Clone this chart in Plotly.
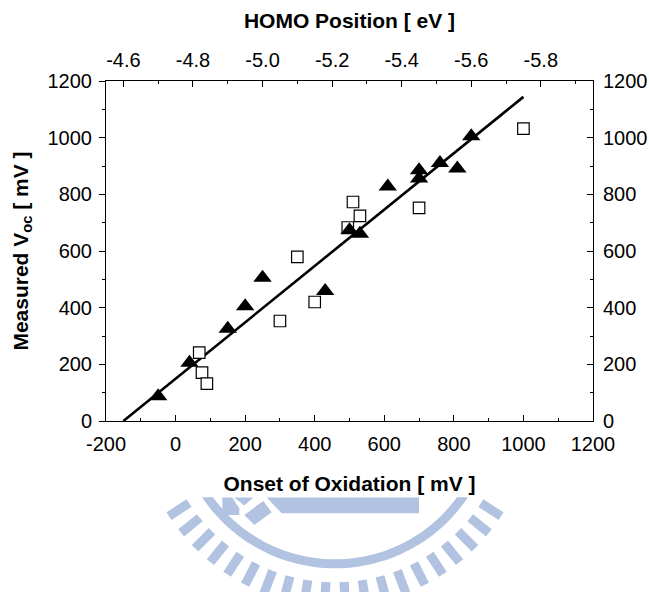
import math
import plotly.graph_objects as go

# ---------------- data ----------------
onset_tri = [-50, 40, 150, 200, 250, 430, 500, 530, 610, 700, 700, 760, 810, 850]
voc_tri = [87, 206, 326, 405, 506, 459, 673, 661, 828, 885, 856, 911, 891, 1005]

onset_sq = [68, 76, 90, 300, 350, 400, 495, 510, 530, 700, 1000]
voc_sq = [241, 171, 132, 353, 579, 420, 683, 773, 724, 752, 1032]

fit_onset = [-150, 1000]
fit_voc = [0, 1144]

x_tickvals = [-200, 0, 200, 400, 600, 800, 1000, 1200]
x_ticktext = ["-200", "0", "200", "400", "600", "800", "1000", "1200"]
homo_tickvals = [-4.6, -4.8, -5.0, -5.2, -5.4, -5.6, -5.8]
homo_ticktext = ["-4.6", "-4.8", "-5.0", "-5.2", "-5.4", "-5.6", "-5.8"]
y_tickvals = [0, 200, 400, 600, 800, 1000, 1200]
y_ticktext = ["0", "200", "400", "600", "800", "1000", "1200"]

FONT = "Liberation Sans, Arial, sans-serif"

fig = go.Figure()
fig.add_trace(go.Scatter(x=fit_onset, y=fit_voc, mode="lines",
                         line=dict(color="black", width=2.6), showlegend=False,
                         hoverinfo="skip"))
fig.add_trace(go.Scatter(x=onset_sq, y=voc_sq, mode="markers",
                         marker=dict(symbol="square", size=11.5, color="white",
                                     line=dict(color="black", width=1.2)),
                         showlegend=False))
fig.add_trace(go.Scatter(x=onset_tri, y=voc_tri, mode="markers",
                         marker=dict(symbol="triangle-up", size=16, color="black",
                                     line=dict(width=0)),
                         showlegend=False))
# empty helper traces so the top (HOMO) axis and the right axis get drawn
fig.add_trace(go.Scatter(x=[None], y=[None], xaxis="x2", yaxis="y", mode="markers",
                         showlegend=False, hoverinfo="skip"))
fig.add_trace(go.Scatter(x=[None], y=[None], xaxis="x", yaxis="y2", mode="markers",
                         showlegend=False, hoverinfo="skip"))

# ---------------- watermark (decorative logo, pixel geometry) ----------------
PX0, PX1, PY0, PY1 = 106.0, 593.0, 80.7, 420.7
YCUT = 497.0
WM = "#b2c2e1"


def to_paper(p):
    return ((p[0] - PX0) / (PX1 - PX0), (PY1 - p[1]) / (PY1 - PY0))


def clip(poly, ycut=YCUT):
    out = []
    n = len(poly)
    for i in range(n):
        a = poly[i]
        b = poly[(i + 1) % n]
        ina = a[1] >= ycut
        inb = b[1] >= ycut
        if ina:
            out.append(a)
        if ina != inb:
            t = (ycut - a[1]) / (b[1] - a[1])
            out.append((a[0] + t * (b[0] - a[0]), ycut))
    return out


def path_of(poly):
    pts = [to_paper(p) for p in poly]
    return "M" + "L".join(f"{x:.4f},{y:.4f}" for x, y in pts) + "Z"


shapes = []
cx, cy = 335.0, 408.0
ro, ri = 160.0, 151.0
angs = [30 + 2 * i for i in range(61)]  # 30..150 deg
ring = [(cx + ro * math.cos(math.radians(a)), cy + ro * math.sin(math.radians(a))) for a in angs]
ring += [(cx + ri * math.cos(math.radians(a)), cy + ri * math.sin(math.radians(a))) for a in reversed(angs)]
ring = clip(ring)
shapes.append(dict(type="path", path=path_of(ring), xref="paper", yref="paper",
                   fillcolor=WM, line=dict(width=0), layer="above"))

r1, r2, hw = 174.0, 198.0, 4.6
for k in range(10):
    for sgn in (-1, 1):
        th = math.radians(90 + sgn * (3 + 6 * k))
        ux, uy = math.cos(th), math.sin(th)
        vx, vy = -uy, ux
        bar = [(cx + r1 * ux + hw * vx, cy + r1 * uy + hw * vy),
               (cx + r2 * ux + hw * vx, cy + r2 * uy + hw * vy),
               (cx + r2 * ux - hw * vx, cy + r2 * uy - hw * vy),
               (cx + r1 * ux - hw * vx, cy + r1 * uy - hw * vy)]
        bar = clip(bar)
        if len(bar) > 2:
            shapes.append(dict(type="path", path=path_of(bar), xref="paper", yref="paper",
                               fillcolor=WM, line=dict(width=0), layer="above"))

emblem = [
    [(222.3, 497.3), (232.3, 497.3), (239.3, 508), (239.3, 514.7), (222.3, 514.7)],
    [(244.3, 514.7), (263.3, 500.7), (271.7, 512), (254.3, 524.7)],
    [(234.3, 497.3), (253.3, 497.3), (244.3, 505.3)],
    [(266.7, 497.3), (419, 497.3), (419, 513), (281.7, 513)],
]
for pg in emblem:
    shapes.append(dict(type="path", path=path_of(pg), xref="paper", yref="paper",
                       fillcolor=WM, line=dict(width=0), layer="above"))

tickfont = dict(family=FONT, size=20, color="black")
titlefont = dict(family=FONT, size=21, color="black", weight="bold")

common = dict(tickwidth=1, tickcolor="black", showline=True, linecolor="black",
              linewidth=1, showgrid=False, zeroline=False, tickfont=tickfont,
              automargin=False)

fig.update_layout(
    width=649, height=592,
    margin=dict(l=106, r=56, t=81, b=171),
    paper_bgcolor="white", plot_bgcolor="white",
    shapes=shapes,
    xaxis=dict(range=[-200, 1200], tickvals=x_tickvals, ticktext=x_ticktext,
               ticks="inside", ticklen=6, ticklabelstandoff=5,
               minor=dict(dtick=100, tick0=0, ticks="inside", ticklen=3, tickcolor="black"),
               title=dict(text="Onset of Oxidation [ mV ]", font=titlefont, standoff=22),
               **common),
    xaxis2=dict(overlaying="x", side="top", anchor="y",
                range=[-4.55, -5.95], tickvals=homo_tickvals, ticktext=homo_ticktext,
                ticks="inside", ticklen=6, ticklabelstandoff=5,
                minor=dict(dtick=0.1, tick0=-4.6, ticks="inside", ticklen=3, tickcolor="black"),
                title=dict(text="HOMO Position [ eV ]", font=titlefont, standoff=14),
                **common),
    yaxis=dict(range=[0, 1200], tickvals=y_tickvals, ticktext=y_ticktext,
               ticks="outside", ticklen=6, ticklabelstandoff=3,
               minor=dict(dtick=100, tick0=0, ticks="outside", ticklen=3, tickcolor="black"),
               title=dict(text="Measured V<sub>oc</sub> [ mV ]", font=titlefont, standoff=13),
               **common),
    yaxis2=dict(overlaying="y", side="right", anchor="x",
                range=[0, 1200], tickvals=y_tickvals, ticktext=y_ticktext,
                ticks="inside", ticklen=6, ticklabelstandoff=5,
                minor=dict(dtick=100, tick0=0, ticks="inside", ticklen=3, tickcolor="black"),
                **common),
)

fig.write_html("out.html", config={"displayModeBar": False},
               post_script="document.body.style.margin='0';")
